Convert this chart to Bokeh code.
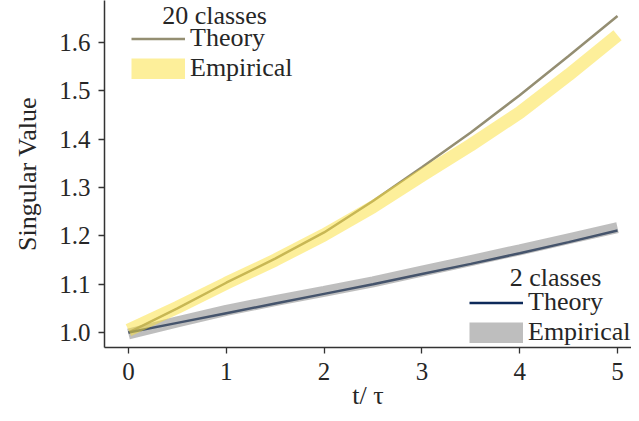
from bokeh.plotting import figure
from bokeh.models import Range1d, FixedTicker, PrintfTickFormatter, Legend, LegendItem, Label, ColumnDataSource
from bokeh.embed import file_html
from bokeh.resources import INLINE

# ---- data ----
t = [0.0, 0.5, 1.0, 1.5, 2.0, 2.5, 3.0, 3.5, 4.0, 4.5, 5.0]
theory_20 = [1.000, 1.050, 1.103, 1.153, 1.207, 1.272, 1.342, 1.414, 1.491, 1.572, 1.655]
empirical_20 = [1.005, 1.052, 1.102, 1.150, 1.202, 1.260, 1.325, 1.388, 1.455, 1.533, 1.615]
theory_2 = [1.000, 1.020, 1.040, 1.060, 1.080, 1.100, 1.121, 1.142, 1.164, 1.187, 1.211]
empirical_2 = [0.997, 1.022, 1.046, 1.066, 1.085, 1.105, 1.127, 1.149, 1.171, 1.194, 1.217]
x_ticks = [0, 1, 2, 3, 4, 5]
y_ticks = [1.0, 1.1, 1.2, 1.3, 1.4, 1.5, 1.6]

FONT = "Liberation Serif"
TXT = "#262626"
C_TH20 = "#948e72"
C_EM20 = "#fbdf35"
C_TH2 = "#0d2a5a"
C_EM2 = "#7d7d7d"

X0, X1 = -0.245, 5.143
Y0, Y1 = 0.969, 1.687

p = figure(width=631, height=413, output_backend="svg", toolbar_location=None,
           x_range=Range1d(X0, X1), y_range=Range1d(Y0, Y1),
           min_border_left=104, min_border_right=0, min_border_top=0, min_border_bottom=66)
p.outline_line_color = None
p.grid.grid_line_color = None
p.background_fill_color = "white"

for ax in (p.xaxis[0], p.yaxis[0]):
    ax.axis_line_color = "#333333"
    ax.axis_line_width = 1.5
    ax.major_tick_line_color = "#333333"
    ax.major_tick_line_width = 1.3
    ax.major_tick_out = 6
    ax.major_tick_in = 0
    ax.minor_tick_line_color = None
    ax.major_label_text_font = FONT
    ax.major_label_text_font_size = "25px"
    ax.major_label_text_color = TXT
    ax.axis_label_text_font = FONT
    ax.axis_label_text_font_size = "26px"
    ax.axis_label_text_font_style = "normal"
    ax.axis_label_text_color = TXT

p.xaxis.ticker = FixedTicker(ticks=x_ticks)
p.yaxis.ticker = FixedTicker(ticks=y_ticks)
p.yaxis.formatter = PrintfTickFormatter(format="%.1f")
p.xaxis.axis_label = "t/ \u03c4"
p.yaxis.axis_label = "Singular Value"
p.xaxis.major_label_standoff = 9
p.xaxis.axis_label_standoff = -2
p.yaxis.major_label_standoff = 8
p.yaxis.axis_label_standoff = 14

src = ColumnDataSource(dict(t=t, th20=theory_20, em20=empirical_20, th2=theory_2, em2=empirical_2))

r_th20 = p.line("t", "th20", source=src, line_color=C_TH20, line_width=2.5)
r_th2 = p.line("t", "th2", source=src, line_color=C_TH2, line_width=2.5)
p.line("t", "em2", source=src, line_color=C_EM2, line_width=11, line_alpha=0.5, line_cap="butt")
p.line("t", "em20", source=src, line_color=C_EM20, line_width=13, line_alpha=0.5, line_cap="butt")

nan = float("nan")
leg_em20 = p.line("x", "y", source=ColumnDataSource(dict(x=[nan], y=[nan])), line_color=C_EM20,
                  line_width=21, line_alpha=0.5, line_cap="butt")
leg_em2 = p.line("x", "y", source=ColumnDataSource(dict(x=[nan], y=[nan])), line_color=C_EM2,
                 line_width=21, line_alpha=0.5, line_cap="butt")


def make_legend(items, loc):
    lg = Legend(items=items, location=loc, orientation="vertical")
    lg.glyph_width = 54
    lg.glyph_height = 21
    lg.label_height = 21
    lg.label_standoff = 5
    lg.padding = 0
    lg.margin = 0
    lg.spacing = 0
    lg.border_line_color = None
    lg.background_fill_alpha = 0
    lg.label_text_font = FONT
    lg.label_text_font_size = "26px"
    lg.label_text_color = TXT
    return lg


lg1 = make_legend([LegendItem(label="Theory", renderers=[r_th20]),
                   LegendItem(label="Empirical", renderers=[leg_em20])], (27, 264))
lg2 = make_legend([LegendItem(label="Theory", renderers=[r_th2]),
                   LegendItem(label="Empirical", renderers=[leg_em2])], (365, 0))
p.add_layout(lg1, "center")
p.add_layout(lg2, "center")

p.add_layout(Label(x=0.88, y=1.656, text="20 classes", text_align="center", text_baseline="alphabetic",
                   text_font=FONT, text_font_size="26px", text_color=TXT))
p.add_layout(Label(x=4.366, y=1.114, text="2 classes", text_align="center", text_baseline="alphabetic",
                   text_font=FONT, text_font_size="26px", text_color=TXT))

open("out.html", "w").write(file_html(p, INLINE))
